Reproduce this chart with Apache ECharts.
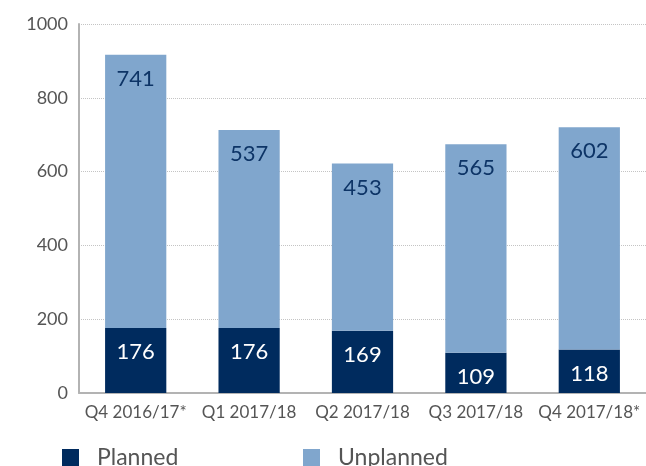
<!DOCTYPE html>
<html>
<head>
<meta charset="utf-8">
<script src="https://cdn.jsdelivr.net/npm/echarts@6/dist/echarts.min.js"></script>
<style>
  html, body { margin: 0; padding: 0; background: #fff; }
  #chart { width: 646px; height: 466px; }
</style>
</head>
<body>
<div id="chart"></div>
<script>
// Quarterly counts, split into planned and unplanned
var categories = ['Q4 2016/17*', 'Q1 2017/18', 'Q2 2017/18', 'Q3 2017/18', 'Q4 2017/18*'];
var planned = [176, 176, 169, 109, 118];
var unplanned = [741, 537, 453, 565, 602];
var yTicks = [0, 200, 400, 600, 800, 1000];

var FONT = 'Lato, "Open Sans", sans-serif';
var NAVY = '#002b5e';
var LIGHT = '#80a6cd';

var chart = echarts.init(document.getElementById('chart'));
chart.setOption({
  animation: false,
  textStyle: { fontFamily: FONT },
  grid: { left: 79, top: 24, width: 570, height: 369, containLabel: false },
  legend: [
    {
      data: ['Planned'], left: 57, top: 441, itemWidth: 17, itemHeight: 17,
      icon: 'rect', selectedMode: false,
      textStyle: { fontFamily: FONT, fontSize: 23, color: '#555', padding: [0, 0, 0, 13] }
    },
    {
      data: ['Unplanned'], left: 298, top: 441, itemWidth: 17, itemHeight: 17,
      icon: 'rect', selectedMode: false,
      textStyle: { fontFamily: FONT, fontSize: 23, color: '#555', padding: [0, 0, 0, 13] }
    }
  ],
  xAxis: {
    type: 'category',
    data: categories,
    axisLine: { lineStyle: { color: '#b3b3b3', width: 2 } },
    axisTick: { show: false },
    axisLabel: { interval: 0, fontFamily: FONT, fontSize: 17, color: '#555', margin: 11 }
  },
  yAxis: {
    type: 'value',
    min: yTicks[0],
    max: yTicks[yTicks.length - 1],
    interval: 200,
    axisLine: { show: true, lineStyle: { color: '#b3b3b3', width: 2 } },
    axisTick: { show: false },
    axisLabel: {
      fontFamily: FONT, fontSize: 18, color: '#555', margin: 11,
      formatter: function (v) { return String(v); }
    },
    splitLine: { show: true, lineStyle: { color: '#c4c4c4', type: 'dotted', width: 1 } }
  },
  series: [
    {
      name: 'Planned', type: 'bar', stack: 'total', barWidth: '54%',
      data: planned,
      itemStyle: { color: NAVY },
      label: {
        show: true, position: 'insideTop', distance: 13,
        fontFamily: FONT, fontSize: 22, color: '#ffffff'
      }
    },
    {
      name: 'Unplanned', type: 'bar', stack: 'total', barWidth: '54%',
      data: unplanned,
      itemStyle: { color: LIGHT },
      label: {
        show: true, position: 'insideTop', distance: 13,
        fontFamily: FONT, fontSize: 22, color: '#0d3466'
      }
    }
  ]
});
</script>
</body>
</html>
